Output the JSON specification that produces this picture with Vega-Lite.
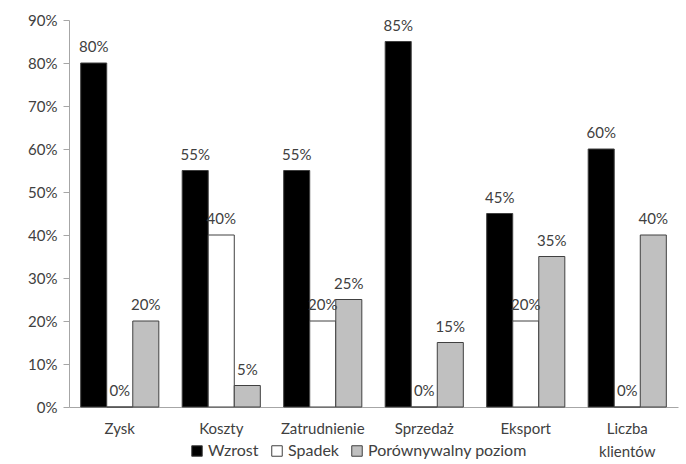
{
  "$schema": "https://vega.github.io/schema/vega-lite/v6.json",
  "width": 609,
  "height": 387,
  "autosize": "none",
  "padding": {"left": 69, "top": 20, "right": 8, "bottom": 57},
  "background": "white",
  "config": {
    "view": {"stroke": null},
    "font": "Lato",
    "axis": {"labelFont": "Lato", "labelFontSize": 15, "labelColor": "#404040", "grid": false, "domainColor": "#a6a6a6", "tickColor": "#a6a6a6"},
    "legend": {"labelFont": "Lato", "labelFontSize": 16, "labelColor": "#404040"}
  },
  "data": {
    "values": [
      {"kategoria": "Zysk", "seria": "Wzrost", "wartosc": 0.80},
      {"kategoria": "Zysk", "seria": "Spadek", "wartosc": 0.0},
      {"kategoria": "Zysk", "seria": "Porównywalny poziom", "wartosc": 0.20},
      {"kategoria": "Koszty", "seria": "Wzrost", "wartosc": 0.55},
      {"kategoria": "Koszty", "seria": "Spadek", "wartosc": 0.40},
      {"kategoria": "Koszty", "seria": "Porównywalny poziom", "wartosc": 0.05},
      {"kategoria": "Zatrudnienie", "seria": "Wzrost", "wartosc": 0.55},
      {"kategoria": "Zatrudnienie", "seria": "Spadek", "wartosc": 0.20},
      {"kategoria": "Zatrudnienie", "seria": "Porównywalny poziom", "wartosc": 0.25},
      {"kategoria": "Sprzedaż", "seria": "Wzrost", "wartosc": 0.85},
      {"kategoria": "Sprzedaż", "seria": "Spadek", "wartosc": 0.0},
      {"kategoria": "Sprzedaż", "seria": "Porównywalny poziom", "wartosc": 0.15},
      {"kategoria": "Eksport", "seria": "Wzrost", "wartosc": 0.45},
      {"kategoria": "Eksport", "seria": "Spadek", "wartosc": 0.20},
      {"kategoria": "Eksport", "seria": "Porównywalny poziom", "wartosc": 0.35},
      {"kategoria": "Liczba klientów", "seria": "Wzrost", "wartosc": 0.60},
      {"kategoria": "Liczba klientów", "seria": "Spadek", "wartosc": 0.0},
      {"kategoria": "Liczba klientów", "seria": "Porównywalny poziom", "wartosc": 0.40}
    ]
  },
  "encoding": {
    "x": {
      "field": "kategoria",
      "type": "nominal",
      "sort": null,
      "scale": {"paddingInner": 0.23, "paddingOuter": 0.115},
      "axis": {
        "title": null,
        "labelAngle": 0,
        "ticks": false,
        "labelPadding": 14,
        "labelLineHeight": 23,
        "labelExpr": "datum.value == 'Liczba klientów' ? ['Liczba', 'klientów'] : datum.value"
      }
    },
    "xOffset": {
      "field": "seria",
      "type": "nominal",
      "sort": ["Wzrost", "Spadek", "Porównywalny poziom"],
      "scale": {"paddingInner": 0, "paddingOuter": 0}
    },
    "y": {
      "field": "wartosc",
      "type": "quantitative",
      "scale": {"domain": [0, 0.9], "nice": false},
      "axis": {"title": null, "format": ".0%", "values": [0, 0.1, 0.2, 0.3, 0.4, 0.5, 0.6, 0.7, 0.8, 0.9], "tickSize": 6, "labelPadding": 6}
    }
  },
  "layer": [
    {
      "mark": {"type": "bar", "stroke": "#404040", "strokeWidth": 1},
      "encoding": {
        "fill": {
          "field": "seria",
          "type": "nominal",
          "scale": {"domain": ["Wzrost", "Spadek", "Porównywalny poziom"], "range": ["#000000", "#ffffff", "#c0c0c0"]},
          "legend": {
            "title": null,
            "orient": "none",
            "direction": "horizontal",
            "legendX": 120,
            "legendY": 423,
            "symbolType": "square",
            "symbolSize": 110,
            "symbolStrokeColor": "#404040",
            "symbolStrokeWidth": 1,
            "labelOffset": 3,
            "columnPadding": 10,
            "labelLimit": 250
          }
        }
      }
    },
    {
      "mark": {"type": "text", "baseline": "middle", "dy": -16, "fontSize": 15, "color": "#404040"},
      "encoding": {
        "text": {"field": "wartosc", "type": "quantitative", "format": ".0%"}
      }
    }
  ]
}
